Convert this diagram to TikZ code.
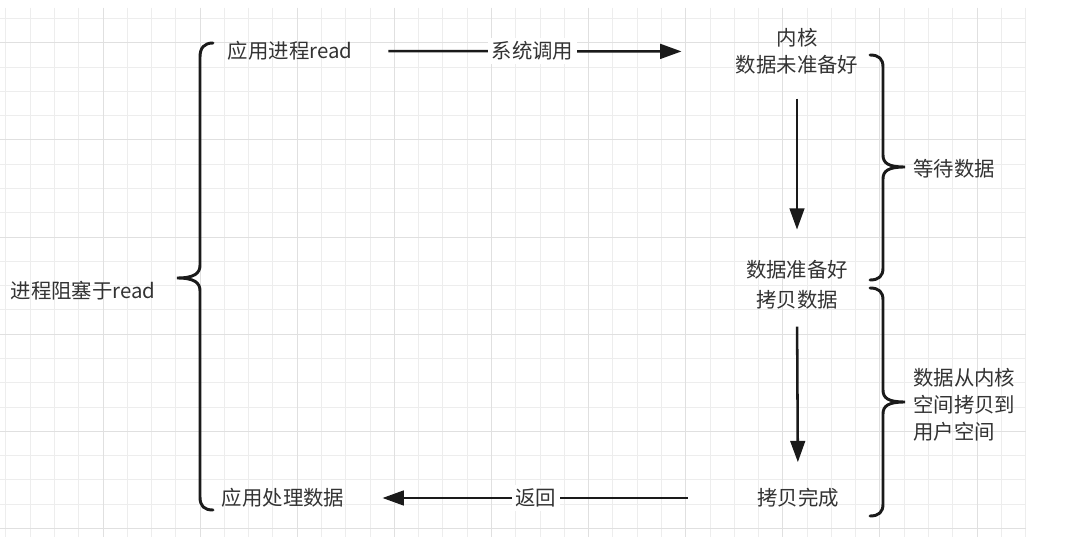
\documentclass[tikz,border=0pt]{standalone}
\usepackage{fontspec}
\setmainfont{Noto Sans CJK SC}
\usetikzlibrary{arrows.meta}
\definecolor{txt}{HTML}{333333}
\definecolor{ink}{HTML}{1A1A1A}
\definecolor{gridminor}{HTML}{EDEDED}
\definecolor{gridmajor}{HTML}{E0E0E0}
\begin{document}
\begin{tikzpicture}[x=0.75pt,y=-0.75pt,
  lbl/.style={inner sep=0pt, text=txt, font=\fontsize{15.3}{20.25}\selectfont},
  tag/.style={fill=white, inner sep=2.5pt, text=txt, font=\fontsize{15.3}{20.25}\selectfont},
  arr/.style={draw=ink, line width=1.9pt, -{Triangle[length=16pt,width=11pt]}},
  bracestroke/.style={draw=ink, line width=2.2pt, line cap=round},
  minorline/.style={draw=gridminor, line width=0.75pt},
  majorline/.style={draw=gridmajor, line width=0.75pt}]
\useasboundingbox (0,0) rectangle (1070,559);
\fill[white] (0,0) rectangle (1070,559);
% grid
\foreach \k in {-4,...,38} \draw[minorline] ({103+24.28*\k},8) -- ({103+24.28*\k},537);
\foreach \k in {-5,...,16} \draw[minorline] (0,{140+24.28*\k}) -- (1025.6,{140+24.28*\k});
\foreach \k in {0,...,9} \draw[majorline] ({103+97.12*\k},8) -- ({103+97.12*\k},537);
\foreach \k in {-1,...,4} \draw[majorline] (0,{140+97.12*\k}) -- (1025.6,{140+97.12*\k});

% text nodes
\node[lbl] (app) at (290,51) {应用进程read};
\node[lbl, align=center] (kernel) at (797,51.5) {内核\\数据未准备好};
\node[lbl] (ready) at (797,270) {数据准备好};
\node[lbl] (copy) at (797,300) {拷贝数据};
\node[lbl] (done) at (798,498) {拷贝完成};
\node[lbl] (handle) at (283,498) {应用处理数据};
\node[lbl] (block) at (83,291) {进程阻塞于read};
\node[lbl, anchor=west] (wait) at (913,169) {等待数据};
\node[lbl, align=left, anchor=west] (copytxt) at (913,405) {数据从内核\\空间拷贝到\\用户空间};

% connectors
\draw[arr, shorten <=27pt, shorten >=40.5pt] (app.east) -- node[tag, pos=0.47] (syscall) {系统调用} (kernel.west);
\draw[arr, shorten <=18pt, shorten >=23pt] (kernel.south) -- (ready.north);
\draw[arr, shorten <=12.75pt, shorten >=19.5pt] (copy.south) -- (done.north);
\draw[arr, shorten <=52pt, shorten >=28.5pt] (done.west) -- node[tag, pos=0.536] (ret) {返回} (handle.east);

% braces
\draw[bracestroke] (213,43) .. controls (204,43) and (200,48) .. (200,57) -- (200,265)
  .. controls (200,273) and (195,278) .. (177,278)
  .. controls (195,278) and (200,283) .. (200,291) -- (200,497)
  .. controls (200,506) and (204,510) .. (213,510);
\draw[bracestroke] (870,55) .. controls (879,55) and (883,59) .. (883,67) -- (883,155)
  .. controls (883,163) and (888,167) .. (905,167)
  .. controls (888,167) and (883,171) .. (883,179) -- (883,268)
  .. controls (883,276) and (879,280) .. (870,280);
\draw[bracestroke] (870,288) .. controls (879,288) and (883,292) .. (883,300) -- (883,390)
  .. controls (883,398) and (888,402) .. (905,402)
  .. controls (888,402) and (883,406) .. (883,414) -- (883,504)
  .. controls (883,512) and (879,516) .. (870,516);
\end{tikzpicture}
\end{document}
